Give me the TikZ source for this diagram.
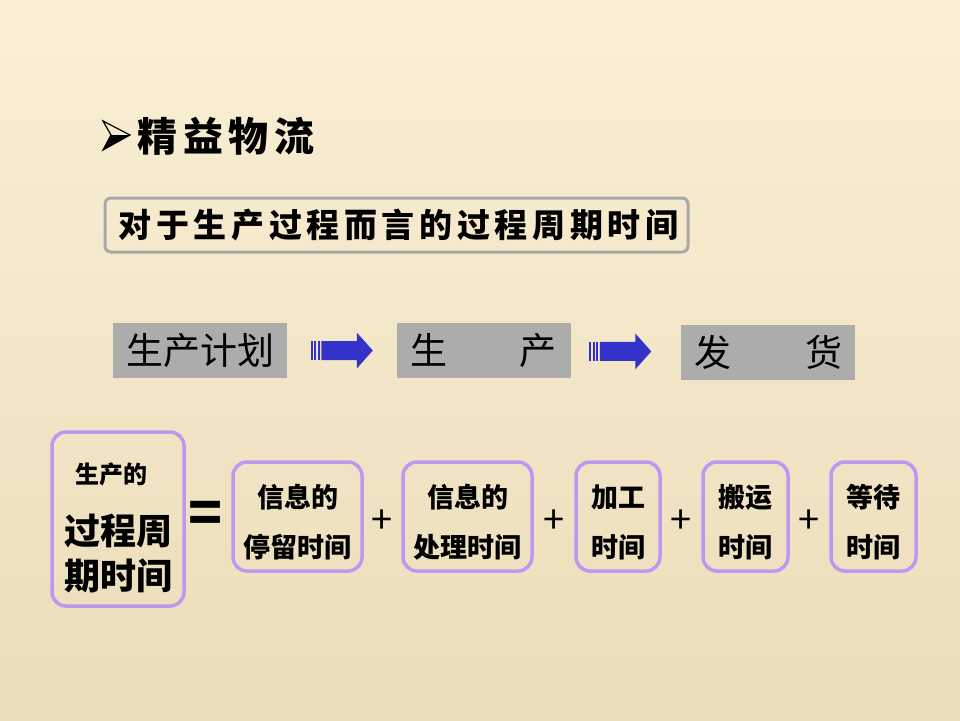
\documentclass[tikz,border=0pt]{standalone}
\usepackage{fontspec}
\newfontfamily\cjk{Noto Sans CJK SC}
\usetikzlibrary{positioning, calc}
\definecolor{bgTop}{RGB}{251,239,213}
\definecolor{bgBot}{RGB}{234,221,186}
\definecolor{boxGray}{RGB}{172,172,172}
\definecolor{frameGray}{RGB}{168,168,168}
\definecolor{flowBlue}{RGB}{51,51,204}
\definecolor{lavender}{RGB}{190,152,240}

\begin{document}
\begin{tikzpicture}[x=1pt, y=-1pt,
    frame/.style={draw=frameGray, line width=3pt, rounded corners=6pt, minimum width=583pt, minimum height=54pt, inner sep=0pt},
    grayblk/.style={fill=boxGray, minimum width=174pt, minimum height=55pt, inner sep=0pt, font=\cjk\fontsize{37}{37}\selectfont},
    timebox/.style={draw=lavender, line width=3.5pt, rounded corners=14pt, minimum height=109pt, inner sep=0pt},
    timetxt/.style={align=center, yshift=-6pt, font=\cjk\bfseries\fontsize{27}{50}\selectfont},
    plus/.style={yshift=-5pt, font=\cjk\fontsize{38}{38}\selectfont},
    flowarrow/.pic={
      \fill[flowBlue] (-31,-9.5) rectangle (-29,9.5);
      \fill[flowBlue] (-27.5,-9.5) rectangle (-25.5,9.5);
      \fill[flowBlue] (-24,-9.5) rectangle (-22,9.5);
      \fill[flowBlue] (-20.5,-9.5) -- (15,-9.5) -- (15,-18) -- (31,0) -- (15,18) -- (15,9.5) -- (-20.5,9.5) -- cycle;
    }
  ]
  % background
  \shade[top color=bgTop, bottom color=bgBot] (0,0) rectangle (960,720);

  % title with bullet
  \node[anchor=west, font=\cjk\bfseries\fontsize{40}{40}\selectfont\addfontfeature{LetterSpace=14}] (title) at (134,136) {精益物流};
  \fill[black] (130,135) -- (111,135) -- (103,150) -- cycle;
  \draw[black, line width=1.2pt, line join=miter] (130,135) -- (103,121) -- (111,135) -- (103,150) -- cycle;

  \node[frame] (scope) at (396.5,225) {};
  \node[font=\cjk\bfseries\fontsize{33}{33}\selectfont\addfontfeature{LetterSpace=14}] (scopetxt) at (scope.center) {对于生产过程而言的过程周期时间\hspace*{-4pt}};

  % flow row
  \node[grayblk] (plan) at (200,350.5) {生产计划};
  \node[grayblk] (prod) at (483.5,350.5) {\makebox[146pt]{生\hfill 产}};
  \node[grayblk] (ship) at (768,352.5) {\makebox[148pt]{发\hfill 货}};
  \pic at ($(plan.east)!0.5!(prod.west)$) {flowarrow};
  \pic at ($(prod.east)!0.45!(ship.west)$) {flowarrow};

  % cycle time formula
  \node[timebox, minimum width=132pt, minimum height=174pt] (total) at (118,519) {};
  \node[align=center, font=\cjk\bfseries\fontsize{36}{45}\selectfont] (totaltxt) at ($(total.center)+(0,9)$)
    {{\fontsize{24}{24}\selectfont 生产的\hspace*{14pt}}\\[16pt]过程周\\期时间};
  \node[timebox, minimum width=129pt, label={[timetxt]center:信息的\\停留时间}] (wait1) at (297.5,516.5) {};
  \node[timebox, minimum width=129pt, label={[timetxt]center:信息的\\处理时间}] (info) at (467.5,516.5) {};
  \node[timebox, minimum width=84pt, label={[timetxt]center:加工\\时间}] (proc) at (618,516.5) {};
  \node[timebox, minimum width=85pt, label={[timetxt]center:搬运\\时间}] (move) at (745.5,516.5) {};
  \node[timebox, minimum width=85pt, label={[timetxt]center:等待\\时间}] (idle) at (873.5,516.5) {};

  \node[font=\cjk\bfseries\fontsize{56}{56}\selectfont] (eq) at (206,517) {=};
  \node[plus] (p1) at ($(wait1.east)!0.5!(info.west)$) {+};
  \node[plus] (p2) at ($(info.east)!0.5!(proc.west)$) {+};
  \node[plus] (p3) at ($(proc.east)!0.5!(move.west)$) {+};
  \node[plus] (p4) at ($(move.east)!0.5!(idle.west)$) {+};
\end{tikzpicture}
\end{document}
